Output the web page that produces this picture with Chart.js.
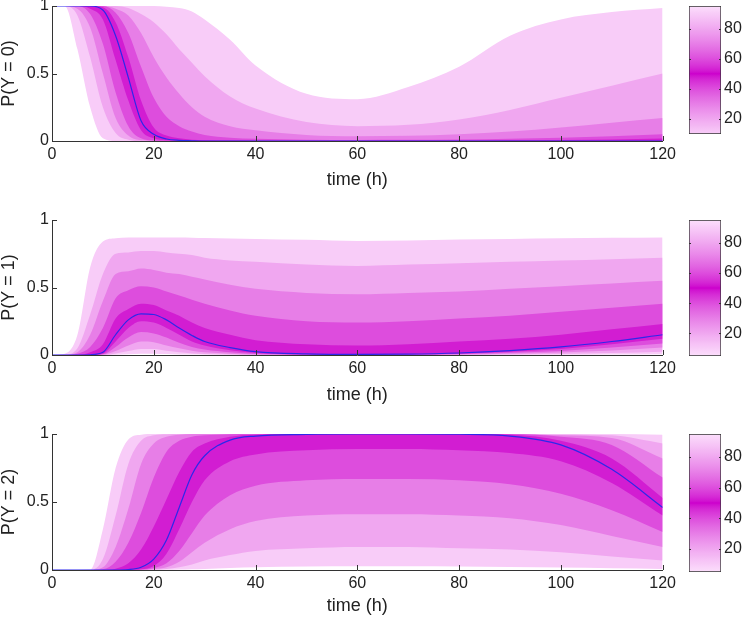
<!DOCTYPE html>
<html>
<head>
<meta charset="utf-8">
<script src="https://cdn.jsdelivr.net/npm/chart.js@4.4.1/dist/chart.umd.min.js"></script>
<style>
  body { margin: 0; background: #fff; width: 742px; height: 617px; position: relative; overflow: hidden; }
  canvas { position: absolute; }
</style>
</head>
<body>
<canvas id="c0"></canvas><canvas id="b0"></canvas>
<canvas id="c1"></canvas><canvas id="b1"></canvas>
<canvas id="c2"></canvas><canvas id="b2"></canvas>
<script>
// time axis (h)
const times = [0, 2.5, 5, 7.5, 10, 12.5, 15, 17.5, 20, 22.5, 25, 27.5, 30, 35, 40, 50, 60, 70, 80, 90, 100, 110, 120];

// P(Y = 0) percentiles
const y0p05 = [1, 1, 0.68, 0.25, 0.02, 0, 0, 0, 0, 0, 0, 0, 0, 0, 0, 0, 0, 0, 0, 0, 0, 0, 0];
const y0p15 = [1, 1, 0.93, 0.62, 0.25, 0.06, 0.01, 0, 0, 0, 0, 0, 0, 0, 0, 0, 0, 0, 0, 0, 0, 0, 0];
const y0p25 = [1, 1, 0.98, 0.84, 0.5, 0.17, 0.04, 0.005, 0, 0, 0, 0, 0, 0, 0, 0, 0, 0, 0, 0, 0, 0, 0];
const y0p35 = [1, 1, 1, 0.94, 0.72, 0.36, 0.11, 0.02, 0.004, 0, 0, 0, 0, 0, 0, 0, 0, 0, 0, 0, 0, 0, 0];
const y0p45 = [1, 1, 1, 0.98, 0.9, 0.6, 0.3, 0.08, 0.02, 0.005, 0.002, 0, 0, 0, 0, 0, 0, 0, 0, 0, 0, 0, 0];
const y0p50 = [1, 1, 1, 1, 0.97, 0.78, 0.47, 0.15, 0.05, 0.015, 0.005, 0.002, 0, 0, 0, 0, 0, 0, 0, 0, 0, 0, 0];
const y0p55 = [1, 1, 1, 1, 0.99, 0.88, 0.62, 0.3, 0.1, 0.04, 0.02, 0.01, 0.006, 0.003, 0.002, 0.002, 0.002, 0.003, 0.004, 0.006, 0.008, 0.012, 0.018];
const y0p65 = [1, 1, 1, 1, 1, 0.95, 0.8, 0.55, 0.32, 0.18, 0.11, 0.07, 0.045, 0.025, 0.016, 0.01, 0.008, 0.009, 0.012, 0.017, 0.025, 0.036, 0.05];
const y0p75 = [1, 1, 1, 1, 1, 0.98, 0.93, 0.8, 0.62, 0.47, 0.35, 0.25, 0.18, 0.11, 0.08, 0.045, 0.035, 0.038, 0.05, 0.07, 0.1, 0.135, 0.17];
const y0p85 = [1, 1, 1, 1, 1, 1, 0.985, 0.94, 0.88, 0.79, 0.68, 0.58, 0.48, 0.33, 0.24, 0.14, 0.11, 0.12, 0.16, 0.23, 0.32, 0.41, 0.5];
const y0p95 = [1, 1, 1, 1, 1, 1, 1, 1, 1, 0.995, 0.985, 0.96, 0.9, 0.75, 0.56, 0.35, 0.31, 0.4, 0.55, 0.78, 0.9, 0.955, 0.985];

// P(Y = 1) percentiles
const y1p05 = [0, 0, 0, 0, 0, 0.002, 0.006, 0.01, 0.01, 0.007, 0.004, 0.003, 0.002, 0.001, 0.0005, 0, 0, 0, 0, 0, 0.001, 0.003, 0.005];
const y1p15 = [0, 0, 0, 0, 0, 0.012, 0.03, 0.045, 0.045, 0.032, 0.02, 0.012, 0.008, 0.004, 0.002, 0.001, 0, 0.001, 0.002, 0.004, 0.008, 0.015, 0.025];
const y1p25 = [0, 0, 0, 0, 0.002, 0.03, 0.07, 0.1, 0.095, 0.07, 0.05, 0.032, 0.02, 0.01, 0.004, 0.001, 0.001, 0.001, 0.003, 0.009, 0.018, 0.033, 0.055];
const y1p35 = [0, 0, 0, 0, 0.005, 0.06, 0.13, 0.17, 0.16, 0.13, 0.09, 0.06, 0.04, 0.02, 0.008, 0.002, 0.001, 0.002, 0.006, 0.016, 0.03, 0.055, 0.085];
const y1p45 = [0, 0, 0, 0, 0.01, 0.1, 0.2, 0.25, 0.24, 0.2, 0.15, 0.1, 0.07, 0.035, 0.015, 0.004, 0.002, 0.003, 0.01, 0.025, 0.045, 0.08, 0.12];
const y1p50 = [0, 0, 0, 0.002, 0.02, 0.15, 0.26, 0.305, 0.3, 0.26, 0.2, 0.145, 0.1, 0.055, 0.025, 0.008, 0.004, 0.006, 0.015, 0.033, 0.06, 0.1, 0.15];
const y1p55 = [0, 0, 0, 0.02, 0.08, 0.27, 0.34, 0.38, 0.37, 0.33, 0.29, 0.24, 0.2, 0.15, 0.11, 0.08, 0.07, 0.08, 0.1, 0.12, 0.15, 0.19, 0.23];
const y1p65 = [0, 0, 0.01, 0.06, 0.2, 0.42, 0.48, 0.51, 0.5, 0.47, 0.44, 0.41, 0.38, 0.33, 0.29, 0.25, 0.24, 0.25, 0.27, 0.29, 0.32, 0.35, 0.38];
const y1p75 = [0, 0, 0.02, 0.15, 0.4, 0.6, 0.62, 0.64, 0.63, 0.61, 0.6, 0.58, 0.56, 0.52, 0.49, 0.46, 0.45, 0.46, 0.47, 0.49, 0.51, 0.53, 0.55];
const y1p85 = [0, 0.003, 0.05, 0.3, 0.6, 0.75, 0.76, 0.77, 0.77, 0.76, 0.75, 0.74, 0.72, 0.7, 0.69, 0.67, 0.66, 0.67, 0.68, 0.69, 0.7, 0.71, 0.72];
const y1p95 = [0, 0.01, 0.15, 0.65, 0.84, 0.865, 0.87, 0.87, 0.87, 0.87, 0.87, 0.868, 0.866, 0.863, 0.86, 0.853, 0.845, 0.848, 0.855, 0.86, 0.865, 0.868, 0.87];

// P(Y = 2) percentiles
const y2p05 = [0, 0, 0, 0, 0, 0, 0, 0, 0, 0.001, 0.003, 0.005, 0.008, 0.015, 0.02, 0.025, 0.027, 0.027, 0.025, 0.022, 0.018, 0.013, 0.008];
const y2p15 = [0, 0, 0, 0, 0, 0, 0, 0, 0.002, 0.008, 0.02, 0.04, 0.07, 0.11, 0.14, 0.16, 0.17, 0.17, 0.16, 0.15, 0.13, 0.1, 0.07];
const y2p25 = [0, 0, 0, 0, 0, 0, 0, 0, 0.006, 0.02, 0.06, 0.13, 0.2, 0.3, 0.36, 0.4, 0.41, 0.41, 0.4, 0.38, 0.33, 0.25, 0.17];
const y2p35 = [0, 0, 0, 0, 0, 0, 0, 0.002, 0.015, 0.05, 0.14, 0.27, 0.4, 0.55, 0.62, 0.66, 0.67, 0.67, 0.66, 0.63, 0.56, 0.44, 0.28];
const y2p45 = [0, 0, 0, 0, 0, 0, 0, 0.005, 0.03, 0.12, 0.3, 0.5, 0.66, 0.8, 0.85, 0.88, 0.89, 0.89, 0.88, 0.86, 0.8, 0.64, 0.4];
const y2p50 = [0, 0, 0, 0, 0, 0, 0.003, 0.02, 0.08, 0.22, 0.46, 0.7, 0.84, 0.955, 0.985, 0.997, 1, 1, 0.998, 0.985, 0.92, 0.74, 0.46];
const y2p55 = [0, 0, 0, 0, 0, 0.01, 0.05, 0.15, 0.32, 0.52, 0.72, 0.87, 0.93, 0.98, 0.995, 1, 1, 1, 1, 0.995, 0.95, 0.82, 0.53];
const y2p65 = [0, 0, 0, 0, 0.005, 0.06, 0.2, 0.42, 0.68, 0.87, 0.95, 0.98, 0.99, 0.998, 1, 1, 1, 1, 1, 1, 0.98, 0.92, 0.68];
const y2p75 = [0, 0, 0, 0, 0.02, 0.17, 0.45, 0.78, 0.93, 0.98, 0.995, 1, 1, 1, 1, 1, 1, 1, 1, 1, 0.99, 0.97, 0.82];
const y2p85 = [0, 0, 0, 0, 0.08, 0.4, 0.78, 0.95, 0.99, 0.998, 1, 1, 1, 1, 1, 1, 1, 1, 1, 1, 0.997, 0.99, 0.93];
const y2p95 = [0, 0, 0, 0.003, 0.3, 0.75, 0.96, 0.995, 1, 1, 1, 1, 1, 1, 1, 1, 1, 1, 1, 1, 1, 1, 0.995];

const yLabels = ['P(Y = 0)', 'P(Y = 1)', 'P(Y = 2)'];
const xTitle = 'time (h)';
const cbTicks = [20, 40, 60, 80];
const cbMins = [10, 5, 5];
const cbMax = 95;

// band mid percentiles, outer band first (colormap is symmetric round 50)
const bandMids = [90, 80, 70, 60, 52.5];

function cmap(p) {
  const d = Math.min(1, Math.abs(p - 50) / 45);
  const t = Math.pow(d, 0.7);
  const r = Math.round(204 + 48 * t), g = Math.round(222 * t);
  return `rgb(${r},${g},${r})`;
}

Chart.defaults.font.family = '"Liberation Sans", Arial, sans-serif';
Chart.defaults.color = '#222';

const inTicks = {
  id: 'inTicks',
  afterDraw(chart, args, o) {
    const { ctx, chartArea: a, scales } = chart;
    ctx.save();
    ctx.strokeStyle = '#333';
    ctx.lineWidth = 1;
    ctx.beginPath();
    if (o.x) {
      scales.x.ticks.forEach(t => {
        const px = Math.round(scales.x.getPixelForValue(t.value)) + 0.5;
        ctx.moveTo(px, a.bottom); ctx.lineTo(px, a.bottom - o.len);
      });
    }
    if (o.y) {
      scales.y.ticks.forEach(t => {
        const py = Math.round(scales.y.getPixelForValue(t.value)) + 0.5;
        ctx.moveTo(a.left, py); ctx.lineTo(a.left + o.len, py);
        if (o.both) { ctx.moveTo(a.right, py); ctx.lineTo(a.right - o.len, py); }
      });
    }
    ctx.stroke();
    ctx.restore();
  }
};

const panels = [
  { plotTop: 6, plotBottom: 141, titleY: 180, cbBottom: 134 },
  { plotTop: 220, plotBottom: 355, titleY: 395, cbBottom: 356 },
  { plotTop: 434, plotBottom: 570, titleY: 606, cbBottom: 572 }
];
// lower curves p05..p45, upper curves p55..p95, then the median
const series = [
  [y0p05, y0p15, y0p25, y0p35, y0p45, y0p55, y0p65, y0p75, y0p85, y0p95, y0p50],
  [y1p05, y1p15, y1p25, y1p35, y1p45, y1p55, y1p65, y1p75, y1p85, y1p95, y1p50],
  [y2p05, y2p15, y2p25, y2p35, y2p45, y2p55, y2p65, y2p75, y2p85, y2p95, y2p50]
];

panels.forEach((p, i) => {
  const top = p.plotTop - 20;
  const h = p.titleY + 11 - top;
  const cv = document.getElementById('c' + i);
  cv.width = 680; cv.height = h;
  cv.style.left = '0px'; cv.style.top = top + 'px';
  cv.style.width = '680px'; cv.style.height = h + 'px';

  const s = series[i];
  const pts = arr => arr.map((v, k) => ({ x: times[k], y: v }));
  const base = { pointRadius: 0, borderWidth: 0, cubicInterpolationMode: 'monotone' };
  // dataset 0 = median line, 1..5 = lower curves, 6..10 = upper curves
  const ds = [{ ...base, data: pts(s[10]), borderColor: 'rgb(45,40,235)', borderWidth: 1.2, fill: false, order: 0 }];
  for (let k = 0; k < 5; k++) ds.push({ ...base, data: pts(s[k]), fill: false, order: 0 });
  for (let k = 5; k < 10; k++) {
    // p55 -> p45, p65 -> p35 ... p95 -> p05; outer bands drawn first
    ds.push({ ...base, data: pts(s[k]), fill: { target: 10 - k }, backgroundColor: cmap(bandMids[9 - k]), order: k });
  }

  new Chart(cv, {
    type: 'line',
    data: { datasets: ds },
    options: {
      responsive: false, animation: false, events: [],
      layout: { padding: { top: 20, left: 0, right: 14, bottom: 0 } },
      plugins: { legend: { display: false }, tooltip: { enabled: false }, inTicks: { x: true, y: true, len: 5 } },
      scales: {
        x: {
          type: 'linear', min: 0, max: 120,
          ticks: { stepSize: 20, font: { size: 16 }, padding: 4, maxRotation: 0 },
          grid: { drawOnChartArea: false, drawTicks: false },
          border: { color: '#333', width: 1 },
          title: { display: true, text: xTitle, font: { size: 18, lineHeight: 1 }, padding: { top: 0, bottom: 2 } },
          afterFit: sc => { sc.height = p.titleY + 11 - p.plotBottom; }
        },
        y: {
          min: 0, max: 1,
          ticks: { stepSize: 0.5, font: { size: 16 }, padding: 3, callback: v => String(v) },
          grid: { drawOnChartArea: false, drawTicks: false },
          border: { color: '#333', width: 1 },
          title: { display: true, text: yLabels[i], font: { size: 18, lineHeight: 1 }, padding: { top: 0, bottom: 0 } },
          afterFit: sc => { sc.width = 52; }
        }
      }
    },
    plugins: [inTicks]
  });

  // colorbar
  const bt = p.plotTop - 20;
  const bh = p.cbBottom + 20 - bt;
  const bv = document.getElementById('b' + i);
  bv.width = 62; bv.height = bh;
  bv.style.left = '680px'; bv.style.top = bt + 'px';
  bv.style.width = '62px'; bv.style.height = bh + 'px';
  const lo = cbMins[i];
  new Chart(bv, {
    type: 'bar',
    data: {
      labels: [''],
      datasets: [{
        data: [[lo, cbMax]],
        barPercentage: 1, categoryPercentage: 1,
        borderColor: '#333', borderWidth: 1, borderSkipped: false,
        backgroundColor: c => {
          const { chart } = c;
          const y = chart.scales.y;
          if (!chart.chartArea || !y) return cmap(50);
          const g = chart.ctx.createLinearGradient(0, y.getPixelForValue(lo), 0, y.getPixelForValue(cbMax));
          for (let v = lo; v <= cbMax; v += 1) g.addColorStop((v - lo) / (cbMax - lo), cmap(v));
          return g;
        }
      }]
    },
    options: {
      responsive: false, animation: false, events: [],
      layout: { padding: { top: 20, left: 9, right: 0, bottom: 20 } },
      plugins: { legend: { display: false }, tooltip: { enabled: false }, inTicks: { y: true, both: true, len: 2 } },
      scales: {
        x: { display: false },
        y: {
          position: 'right', min: lo, max: cbMax,
          afterBuildTicks: sc => { sc.ticks = cbTicks.map(v => ({ value: v })); },
          ticks: { font: { size: 16 }, padding: 3 },
          grid: { display: false, drawTicks: false },
          border: { display: false },
          afterFit: sc => { sc.width = 21; }
        }
      }
    },
    plugins: [inTicks]
  });
});
</script>
</body>
</html>
